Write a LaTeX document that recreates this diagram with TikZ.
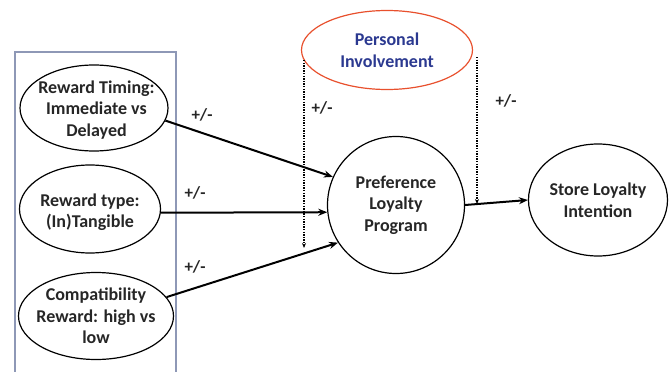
\documentclass[tikz,border=0pt]{standalone}
\usepackage{fontspec}
\setmainfont{Carlito}[BoldFont={Carlito Bold}]
\usetikzlibrary{shapes.geometric,arrows.meta}
\definecolor{boxcol}{HTML}{8E98B6}
\definecolor{picol}{HTML}{E8502D}
\definecolor{pitext}{HTML}{2B3990}
\tikzset{
  ell/.style={draw, ellipse, line width=1.2pt, inner sep=0pt},
  txt/.style={align=center, inner sep=0pt,
    font=\fontsize{18}{21.5}\selectfont\bfseries, text=black!85},
  arr/.style={line width=2pt, -{Stealth[length=9pt,width=7pt]}},
  dotarr/.style={line width=1.6pt, dash pattern=on 1.3pt off 1.3pt, -{Stealth[length=5pt,width=4pt]}},
  pm/.style={font=\fontsize{17}{19}\selectfont\bfseries, text=black!85}
}
\begin{document}
\begin{tikzpicture}[x=1pt,y=-1pt]
\useasboundingbox (0,0) rectangle (672,372);
\draw[boxcol, line width=1.3pt] (15,380) -- (15,52) -- (176,52) -- (176,380);
\node[ell, minimum width=148pt, minimum height=86pt,
  label={[txt, yshift=-2pt, xshift=2.5pt]center:{Reward Timing:\\Immediate vs\\Delayed}}] (e1) at (94,108) {};
\node[ell, minimum width=141pt, minimum height=88pt,
  label={[txt, yshift=-3pt]center:{Reward type:\\(In)Tangible}}] (e2) at (90,209) {};
\node[ell, minimum width=155pt, minimum height=87pt,
  label={[txt]center:{Compatibility\\Reward: high vs\\low}}] (e3) at (96,316) {};
\node[ell, circle, minimum size=137pt,
  label={[txt]center:{Preference\\Loyalty\\Program}}] (plp) at (396,205) {};
\node[ell, minimum width=139pt, minimum height=112pt,
  label={[txt]center:{Store Loyalty\\Intention}}] (sli) at (598,200) {};
\node[ell, draw=picol, minimum width=171pt, minimum height=79pt,
  label={[txt, text=pitext]center:{Personal\\Involvement}}] (pi) at (387,50) {};
\draw[arr] (e1.-10) -- (plp.156);
\draw[arr] (e2.-3) -- (plp.-174);
\draw[arr] (e3.15) -- (plp.213);
\draw[arr] (plp.east) -- (sli.west);
\coordinate (d1a) at (304,60);
\coordinate (d1b) at (304,248);
\coordinate (d2a) at (477,57);
\coordinate (d2b) at (477,204);
\draw[dotarr] (d1a) -- (d1b);
\draw[dotarr] (d2a) -- (d2b);
\node[pm] (l1) at (202,115) {+/-};
\node[pm] (l2) at (195,193) {+/-};
\node[pm] (l3) at (195,267) {+/-};
\node[pm] (l4) at (322,108) {+/-};
\node[pm] (l5) at (506,101) {+/-};
\end{tikzpicture}
\end{document}
